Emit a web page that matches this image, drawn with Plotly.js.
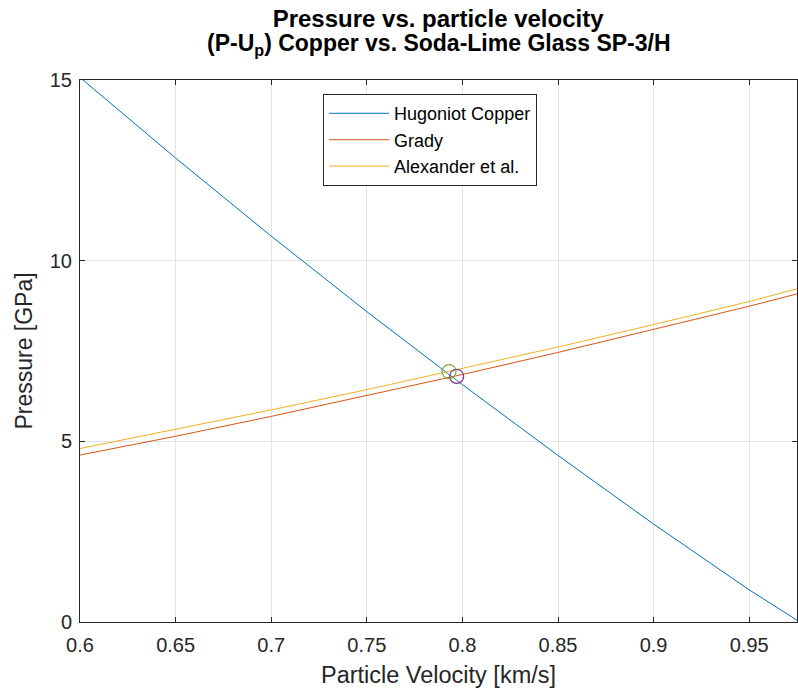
<!DOCTYPE html>
<html>
<head>
<meta charset="utf-8">
<script src="https://cdn.plot.ly/plotly-3.0.1.min.js"></script>
<style>html,body{margin:0;padding:0;background:#fff;}#chart{width:798px;height:698px;}</style>
</head>
<body>
<div id="chart"></div>
<script>
// Particle velocity [km/s]
var upValues = [0.6, 0.65, 0.7, 0.75, 0.8, 0.85, 0.9, 0.95, 0.975];
// Pressure [GPa]
var hugoniotCopper = [15.07, 12.84, 10.68, 8.59, 6.57, 4.61, 2.71, 0.89, 0.05];
var grady = [4.62, 5.14, 5.69, 6.26, 6.85, 7.46, 8.09, 8.74, 9.08];
var alexander = [4.80, 5.33, 5.87, 6.43, 7.01, 7.61, 8.23, 8.87, 9.22];
// Intersection points
var gradyCross = {x: [0.797], y: [6.80]};
var alexanderCross = {x: [0.793], y: [6.93]};
// Tick labels
var xTicks = [0.6, 0.65, 0.7, 0.75, 0.8, 0.85, 0.9, 0.95];
var xTickText = ['0.6', '0.65', '0.7', '0.75', '0.8', '0.85', '0.9', '0.95'];
var yTicks = [0, 5, 10, 15];

var FONT = 'Liberation Sans, Arial, sans-serif';

var traces = [
  {x: upValues, y: hugoniotCopper, name: 'Hugoniot Copper', mode: 'lines', line: {color: '#0072BD', width: 1}},
  {x: upValues, y: grady, name: 'Grady', mode: 'lines', line: {color: '#D95319', width: 1}},
  {x: upValues, y: alexander, name: 'Alexander et al.', mode: 'lines', line: {color: '#EDB120', width: 1}},
  {x: gradyCross.x, y: gradyCross.y, mode: 'markers', showlegend: false,
   marker: {symbol: 'circle-open', size: 14, color: '#7E2F8E', line: {width: 1.2, color: '#7E2F8E'}}},
  {x: alexanderCross.x, y: alexanderCross.y, mode: 'markers', showlegend: false,
   marker: {symbol: 'circle-open', size: 14, color: '#77AC30', line: {width: 1.2, color: '#77AC30'}}}
];

var axisCommon = {
  showline: true, linecolor: '#262626', linewidth: 1, mirror: 'ticks',
  ticks: 'inside', ticklen: 5, tickcolor: '#262626',
  showgrid: true, gridcolor: '#e3e3e3', gridwidth: 1, zeroline: false,
  tickfont: {family: FONT, size: 20, color: '#262626'}
};

var layout = {
  width: 798, height: 698,
  margin: {l: 80, r: 1, t: 80, b: 76},
  paper_bgcolor: '#fff', plot_bgcolor: '#fff',
  showlegend: true,
  title: {
    text: '<b>Pressure vs. particle velocity</b>',
    font: {family: FONT, size: 24, color: '#000'},
    x: 0.549, xanchor: 'center', xref: 'container',
    y: 0.974, yanchor: 'middle', yref: 'container'
  },
  annotations: [{
    text: '<b>(P-U<sub>p</sub>) Copper vs. Soda-Lime Glass SP-3/H</b>',
    font: {family: FONT, size: 23, color: '#000'},
    xref: 'paper', yref: 'paper', x: 0.5, y: 1.0646, xanchor: 'center', yanchor: 'middle',
    showarrow: false
  }],
  xaxis: Object.assign({}, axisCommon, {
    range: [0.6, 0.975], tickvals: xTicks, ticktext: xTickText,
    ticklabelstandoff: 5,
    title: {text: 'Particle Velocity [km/s]', standoff: 11,
      font: {family: FONT, size: 23.5, color: '#262626'}}
  }),
  yaxis: Object.assign({}, axisCommon, {
    range: [0, 15], tickvals: yTicks,
    ticklabelstandoff: 3,
    title: {text: 'Pressure [GPa]', standoff: 10,
      font: {family: FONT, size: 23, color: '#262626'}}
  }),
  legend: {
    x: 0.339, y: 0.974, xanchor: 'left', yanchor: 'top',
    bgcolor: '#fff', bordercolor: '#262626', borderwidth: 1,
    font: {family: FONT, size: 18, color: '#000'},
    tracegroupgap: 0, itemwidth: 60
  }
};

Plotly.newPlot('chart', traces, layout, {displayModeBar: false, staticPlot: true});
</script>
</body>
</html>
